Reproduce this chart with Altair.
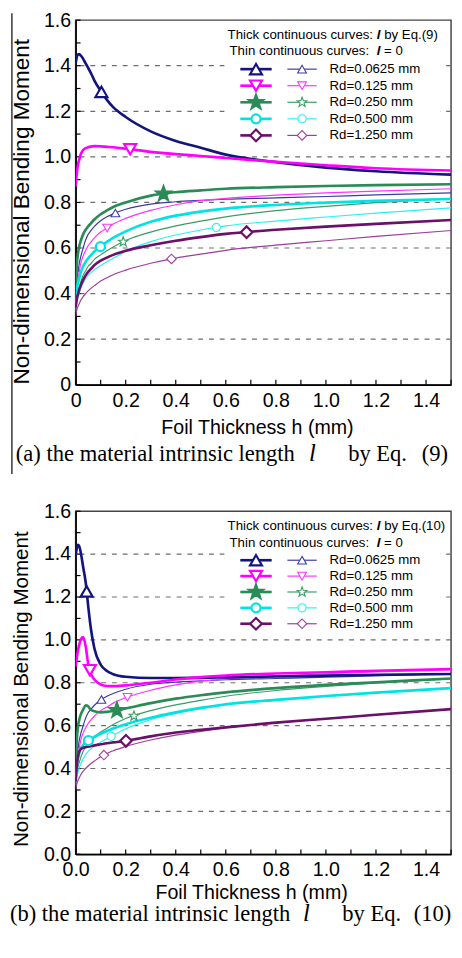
import altair as alt
import numpy as np
import pandas as pd

# ---------------- data ----------------
H = [0, 0.005, 0.01, 0.015, 0.02, 0.03, 0.04, 0.05, 0.06, 0.075, 0.1, 0.125,
     0.15, 0.2, 0.3, 0.4, 0.5, 0.6, 0.8, 1.0, 1.2, 1.5]

RD_LABELS = ["Rd=0.0625 mm", "Rd=0.125 mm", "Rd=0.250 mm", "Rd=0.500 mm", "Rd=1.250 mm"]

# thin curves (l = 0), identical in both panels
THIN_0625 = [0.37, 0.46, 0.50, 0.535, 0.56, 0.60, 0.635, 0.66, 0.675, 0.695, 0.72, 0.737, 0.75, 0.77, 0.793, 0.803, 0.809, 0.814, 0.82, 0.826, 0.833, 0.842]
THIN_125 = [0.35, 0.43, 0.47, 0.50, 0.53, 0.565, 0.59, 0.61, 0.625, 0.645, 0.67, 0.687, 0.705, 0.73, 0.765, 0.79, 0.808, 0.818, 0.832, 0.842, 0.85, 0.86]
THIN_250 = [0.33, 0.38, 0.41, 0.43, 0.45, 0.48, 0.50, 0.52, 0.53, 0.55, 0.57, 0.588, 0.605, 0.633, 0.67, 0.697, 0.718, 0.737, 0.764, 0.783, 0.799, 0.818]
THIN_500 = [0.32, 0.36, 0.385, 0.405, 0.42, 0.445, 0.465, 0.48, 0.49, 0.505, 0.523, 0.54, 0.555, 0.585, 0.628, 0.657, 0.679, 0.697, 0.718, 0.736, 0.753, 0.776]
THIN_1250 = [0.30, 0.33, 0.345, 0.358, 0.37, 0.387, 0.40, 0.412, 0.422, 0.435, 0.455, 0.47, 0.483, 0.503, 0.533, 0.556, 0.573, 0.59, 0.613, 0.632, 0.651, 0.677]

# thick curves, panel (a): l by Eq.(9)
A_0625 = [1.41, 1.44, 1.45, 1.45, 1.445, 1.43, 1.41, 1.39, 1.37, 1.335, 1.29, 1.25, 1.218, 1.175, 1.112, 1.07, 1.04, 1.01, 0.977, 0.953, 0.937, 0.922]
A_125 = [0.87, 0.93, 0.97, 0.99, 1.01, 1.03, 1.038, 1.042, 1.045, 1.047, 1.046, 1.044, 1.042, 1.036, 1.022, 1.012, 1.004, 0.995, 0.978, 0.963, 0.95, 0.94]
A_250 = [0.42, 0.53, 0.58, 0.61, 0.63, 0.66, 0.68, 0.695, 0.707, 0.725, 0.748, 0.765, 0.78, 0.80, 0.83, 0.845, 0.853, 0.86, 0.867, 0.872, 0.876, 0.88]
A_500 = [0.36, 0.42, 0.45, 0.47, 0.49, 0.52, 0.54, 0.555, 0.567, 0.585, 0.607, 0.627, 0.645, 0.673, 0.715, 0.742, 0.76, 0.773, 0.789, 0.799, 0.807, 0.815]
A_1250 = [0.34, 0.38, 0.40, 0.42, 0.435, 0.46, 0.48, 0.495, 0.507, 0.525, 0.545, 0.558, 0.57, 0.588, 0.612, 0.632, 0.648, 0.662, 0.68, 0.694, 0.706, 0.723]

# thick curves, panel (b): l by Eq.(10)
B_0625 = [1.39, 1.43, 1.443, 1.435, 1.41, 1.34, 1.27, 1.16, 1.06, 0.96, 0.885, 0.855, 0.84, 0.828, 0.822, 0.822, 0.823, 0.825, 0.829, 0.833, 0.837, 0.841]
B_125 = [0.875, 0.92, 0.955, 0.98, 1.0, 1.013, 0.97, 0.89, 0.845, 0.815, 0.792, 0.785, 0.784, 0.788, 0.80, 0.815, 0.826, 0.834, 0.843, 0.849, 0.856, 0.864]
B_250 = [0.42, 0.54, 0.60, 0.63, 0.65, 0.675, 0.695, 0.69, 0.675, 0.667, 0.662, 0.664, 0.668, 0.68, 0.705, 0.726, 0.742, 0.755, 0.775, 0.79, 0.802, 0.82]
B_500 = [0.36, 0.42, 0.45, 0.475, 0.49, 0.51, 0.522, 0.53, 0.537, 0.547, 0.562, 0.575, 0.587, 0.607, 0.637, 0.662, 0.683, 0.70, 0.72, 0.738, 0.754, 0.775]
B_1250 = [0.34, 0.42, 0.46, 0.48, 0.49, 0.497, 0.50, 0.502, 0.504, 0.508, 0.513, 0.518, 0.522, 0.529, 0.55, 0.568, 0.58, 0.592, 0.614, 0.632, 0.651, 0.677]

THIN = [THIN_0625, THIN_125, THIN_250, THIN_500, THIN_1250]
THICK_A = [A_0625, A_125, A_250, A_500, A_1250]
THICK_B = [B_0625, B_125, B_250, B_500, B_1250]

# h positions of the single marker on each curve
MARK_A_THICK = [0.103, 0.218, 0.351, 0.099, 0.683]
MARK_A_THIN = [0.159, 0.126, 0.19, 0.562, 0.383]
MARK_B_THICK = [0.044, 0.057, 0.165, 0.051, 0.201]
MARK_B_THIN = [0.103, 0.207, 0.233, 0.142, 0.113]

X_TICKS = [0.0, 0.1, 0.2, 0.3, 0.4, 0.5, 0.6, 0.7, 0.8, 0.9, 1.0, 1.1, 1.2, 1.3, 1.4, 1.5]
Y_TICKS = [0.0, 0.1, 0.2, 0.3, 0.4, 0.5, 0.6, 0.7, 0.8, 0.9, 1.0, 1.1, 1.2, 1.3, 1.4, 1.5, 1.6]
GRID_Y = [0.2, 0.4, 0.6, 0.8, 1.0, 1.2, 1.4]

# ---------------- styles ----------------
THICK_COLORS = ["#14147f", "#ff00ff", "#2b8b57", "#00e3e3", "#6b0f6b"]
THIN_COLORS = ["#3c3ca0", "#ff33ff", "#3c9c66", "#2ef0f0", "#9c3f9c"]
STAR = ("M0,-1L0.235,-0.324L0.951,-0.309L0.38,0.124L0.588,0.809L0,0.4"
        "L-0.588,0.809L-0.38,0.124L-0.951,-0.309L-0.235,-0.324Z")
SHAPES = ["triangle-up", "triangle-down", STAR, "circle", "diamond"]
THICK_SIZE = [150, 150, 230, 85, 140]
THIN_SIZE = [80, 80, 110, 70, 95]
THICK_SW = 2.7
THIN_SW = 1.2
SANS = "Liberation Sans"
SERIF = "Liberation Serif"
W = 383
ONE = pd.DataFrame({"k": [0]})


def txt(s, x, y, size, font=SANS, style="normal", weight="normal", align="left", baseline="alphabetic", color="black"):
    return alt.Chart(pd.DataFrame({"t": [s]})).mark_text(
        align=align, baseline=baseline, font=font, fontSize=size, fontStyle=style,
        fontWeight=weight, color=color
    ).encode(x=alt.value(x), y=alt.value(y), text="t:N")


def panel(thick, mark_thick, mark_thin, height, zero_fmt, eq, letter, ytitle_size, ytitle_y,
          row_step, xtitle_x, xtitle_y, cap_dx, cap_y, show_frame_rule, bottom_guard):
    rows = []
    for i in range(5):
        for kind, vals, col in (("thin", THIN[i], THIN_COLORS[i]), ("thick", thick[i], THICK_COLORS[i])):
            for h, m in zip(H, vals):
                rows.append({"h": h, "M": m, "s": f"{kind}{i}", "kind": kind, "col": col})
    df = pd.DataFrame(rows)

    mrows = []
    for i in range(5):
        mh = mark_thin[i]
        mrows.append({"h": mh, "M": float(np.interp(mh, H, THIN[i])), "shape": SHAPES[i],
                      "stroke": THIN_COLORS[i], "fill": "white", "size": THIN_SIZE[i], "sw": 1.1})
    for i in range(5):
        mh = mark_thick[i]
        mrows.append({"h": mh, "M": float(np.interp(mh, H, thick[i])), "shape": SHAPES[i],
                      "stroke": THICK_COLORS[i],
                      "fill": THICK_COLORS[i] if SHAPES[i] == STAR else "white",
                      "size": THICK_SIZE[i], "sw": 2.2})
    mdf = pd.DataFrame(mrows)

    if zero_fmt:
        lab = "(round(datum.value*10) % 2 == 0) ? (datum.value == 0 ? '0' : format(datum.value, '.1f')) : ''"
    else:
        lab = "(round(datum.value*10) % 2 == 0) ? format(datum.value, '.1f') : ''"

    xs = alt.Scale(domain=[0, 1.5], nice=False, zero=False)
    ys = alt.Scale(domain=[0, 1.6], nice=False, zero=False)

    x_axis = alt.Axis(values=X_TICKS, labelExpr=lab, ticks=False, grid=False, domainColor="black",
                      domainWidth=1.6, labelFont=SANS, labelFontSize=20, labelColor="black",
                      labelPadding=6, labelFlush=False, labelOverlap=False,
                      title="Foil Thickness h (mm)", titleFont=SANS, titleFontSize=20,
                      titleFontWeight="normal", titleColor="black", titleX=xtitle_x,
                      titleY=xtitle_y, titleBaseline="alphabetic", titleAlign="center")
    y_axis = alt.Axis(values=Y_TICKS, labelExpr=lab, ticks=False, grid=False, domainColor="black",
                      domainWidth=1.6, labelFont=SANS, labelFontSize=20, labelColor="black",
                      labelPadding=5, labelFlush=False, labelOverlap=False,
                      title="Non-dimensional Bending Moment", titleFont=SANS,
                      titleFontSize=ytitle_size, titleFontWeight="normal", titleColor="black",
                      titleX=-55, titleY=ytitle_y, titleAngle=270, titleAlign="center",
                      titleBaseline="middle")

    X = lambda f: alt.X(f, scale=xs, axis=x_axis, title="Foil Thickness h (mm)")
    Y = lambda f: alt.Y(f, scale=ys, axis=y_axis, title="Non-dimensional Bending Moment")

    grid = alt.Chart(pd.DataFrame({"v": GRID_Y})).mark_rule(
        color="#6e6e6e", strokeWidth=1.2, strokeDash=[5, 6]
    ).encode(y=Y("v:Q"))

    xt = alt.Chart(pd.DataFrame({"v": X_TICKS})).mark_rule(color="black", strokeWidth=1.2).encode(
        x=X("v:Q"), y=alt.value(height), y2=alt.value(height - 5))
    yt = alt.Chart(pd.DataFrame({"v": Y_TICKS})).mark_rule(color="black", strokeWidth=1.2).encode(
        y=Y("v:Q"), x=alt.value(0), x2=alt.value(5))

    legend_bg = alt.Chart(ONE).mark_rect(fill="white").encode(
        x=alt.value(152), x2=alt.value(372), y=alt.value(4), y2=alt.value(4 + 124 * height / 372))

    thin_lines = alt.Chart(df[df.kind == "thin"]).mark_line(strokeWidth=THIN_SW, interpolate="monotone", clip=True).encode(
        x=X("h:Q"), y=Y("M:Q"),
        color=alt.Color("col:N", scale=None),
        detail="s:N")
    thick_lines = alt.Chart(df[df.kind == "thick"]).mark_line(strokeWidth=THICK_SW, interpolate="monotone", clip=True).encode(
        x=X("h:Q"), y=Y("M:Q"),
        color=alt.Color("col:N", scale=None),
        detail="s:N")

    marks = alt.Chart(mdf).mark_point(filled=True, opacity=1).encode(
        x=X("h:Q"), y=Y("M:Q"),
        shape=alt.Shape("shape:N", scale=None),
        stroke=alt.Stroke("stroke:N", scale=None),
        fill=alt.Fill("fill:N", scale=None),
        size=alt.Size("size:Q", scale=None),
        strokeWidth=alt.StrokeWidth("sw:Q", scale=None))

    layers = [grid, xt, yt, legend_bg, thin_lines, thick_lines, marks]

    # legend header
    layers += [
        txt("Thick continuous curves:", 155, 19, 13.5),
        txt("l", 155 + 152.3, 19, 13.5, style="italic", weight="bold"),
        txt(f"by Eq.({eq})", 155 + 159.8, 19, 13.5),
        txt("Thin continuous curves:", 157, 36, 13.5),
        txt("l", 157 + 150.1, 36, 13.5, style="italic", weight="bold"),
        txt("= 0", 157 + 157.6, 36, 13.5),
    ]
    # legend rows
    for i in range(5):
        ly = 50 + i * row_step
        layers.append(alt.Chart(ONE).mark_rule(color=THICK_COLORS[i], strokeWidth=THICK_SW).encode(
            x=alt.value(168), x2=alt.value(200), y=alt.value(ly)))
        layers.append(alt.Chart(ONE).mark_rule(color=THIN_COLORS[i], strokeWidth=THIN_SW).encode(
            x=alt.value(216), x2=alt.value(246), y=alt.value(ly)))
        layers.append(alt.Chart(ONE).mark_point(
            shape=SHAPES[i], size=THICK_SIZE[i], filled=True, opacity=1, stroke=THICK_COLORS[i],
            fill=THICK_COLORS[i] if SHAPES[i] == STAR else "white", strokeWidth=2.2
        ).encode(x=alt.value(184), y=alt.value(ly)))
        layers.append(alt.Chart(ONE).mark_point(
            shape=SHAPES[i], size=THIN_SIZE[i], filled=True, opacity=1, stroke=THIN_COLORS[i],
            fill="white", strokeWidth=1.1
        ).encode(x=alt.value(231), y=alt.value(ly)))
        layers.append(txt(RD_LABELS[i], 259, ly, 13.5, baseline="middle"))

    # caption below the panel
    layers += [
        txt(f"({letter}) the material intrinsic length", cap_dx[0], cap_y, 23, font=SERIF),
        txt("l", cap_dx[1], cap_y, 25, font=SERIF, style="italic"),
        txt("by Eq.", cap_dx[2], cap_y, 23, font=SERIF),
        txt(f"({eq})", cap_dx[3], cap_y, 23, font=SERIF),
    ]

    # image border line at the far left (visible in panel a only)
    layers.append(alt.Chart(ONE).mark_rule(color="black", strokeWidth=1.2,
                                           opacity=1 if show_frame_rule else 0).encode(
        x=alt.value(-65), y=alt.value(-7 if show_frame_rule else 0),
        y2=alt.value(463 if show_frame_rule else 1)))
    # invisible guards that fix the layout extents (left, right, bottom)
    layers.append(alt.Chart(ONE).mark_rule(color="white", strokeWidth=1, opacity=0).encode(
        x=alt.value(-68), y=alt.value(0), y2=alt.value(1)))
    layers.append(alt.Chart(ONE).mark_rule(color="white", strokeWidth=1, opacity=0).encode(
        x=alt.value(400), y=alt.value(0), y2=alt.value(1)))
    if bottom_guard:
        layers.append(alt.Chart(ONE).mark_rule(color="white", strokeWidth=1, opacity=0).encode(
            x=alt.value(0), x2=alt.value(1), y=alt.value(bottom_guard)))

    return alt.layer(*layers).properties(width=W, height=height)


HA = 372
HB = 350
pa = panel(THICK_A, MARK_A_THICK, MARK_A_THIN, HA, True, "9", "a", 23, 195, 16.9,
           185, 50, [-61, 238, 278, 353], HA + 78, True, None)
pb = panel(THICK_B, MARK_B_THICK, MARK_B_THIN, HB, False, "10", "b", 21, 181, 16.2,
           179, 45, [-67, 232, 272, 345], HB + 68, False, HB + 90)

chart = alt.vconcat(pa, pb, spacing=25).properties(
    padding={"left": 0, "top": -8, "right": -15, "bottom": -16}
).configure(font=SANS).configure_view(stroke="#444444", strokeWidth=1.5)

chart.save("out.html", embed_options={"renderer": "svg", "actions": False})
